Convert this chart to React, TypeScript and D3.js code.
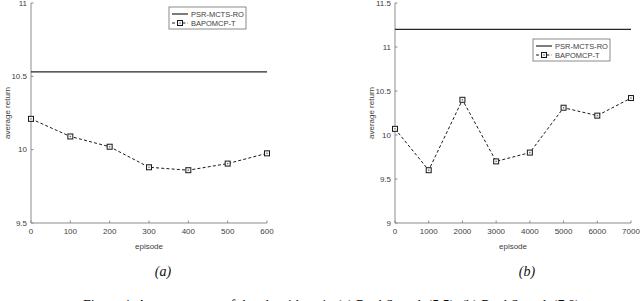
import * as React from "react";
import * as d3 from "d3";

// panel (a)
const episodesA = [0, 100, 200, 300, 400, 500, 600];
const bapomcpA = [10.21, 10.09, 10.02, 9.88, 9.86, 9.905, 9.975];
const psrA = 10.53;
const yTicksA = [9.5, 10, 10.5, 11];

// panel (b)
const episodesB = [0, 1000, 2000, 3000, 4000, 5000, 6000, 7000];
const bapomcpB = [10.07, 9.6, 10.4, 9.7, 9.8, 10.31, 10.22, 10.42];
const psrB = 11.2;
const yTicksB = [9, 9.5, 10, 10.5, 11, 11.5];

const seriesNames = ["PSR-MCTS-RO", "BAPOMCP-T"];
const panelLabels = ["(a)", "(b)"];

const axisColor = "#8c8c8c";
const labelColor = "#404040";
const font = "'Liberation Sans', Arial, sans-serif";
const serif = "'Liberation Serif', 'DejaVu Serif', serif";

type PanelProps = {
  left: number;
  right: number;
  episodes: number[];
  values: number[];
  psr: number;
  yTicks: number[];
  legendX: number;
  legendY: number;
  label: string;
};

const Marker = ({ cx, cy }: { cx: number; cy: number }) => (
  <g>
    <rect
      x={cx - 2.5}
      y={cy - 2.5}
      width={5}
      height={5}
      fill="#f4f4f4"
      stroke="#1a1a1a"
      strokeWidth={1}
    />
    <rect x={cx - 0.6} y={cy - 0.6} width={1.2} height={1.2} fill="#555" />
  </g>
);

const Panel = (props: PanelProps) => {
  const { left, right, episodes, values, psr, yTicks, legendX, legendY, label } = props;
  const top = 3;
  const bottom = 223;

  const x = d3
    .scaleLinear()
    .domain([0, episodes[episodes.length - 1]])
    .range([left, right]);
  const y = d3
    .scaleLinear()
    .domain([yTicks[0], yTicks[yTicks.length - 1]])
    .range([bottom, top]);

  const line = d3
    .line<number>()
    .x((d, i) => x(episodes[i]))
    .y((d) => y(d));

  const midX = (left + right) / 2;

  return (
    <g>
      {/* axes */}
      <line x1={left} x2={left} y1={top} y2={bottom} stroke={axisColor} strokeWidth={1} />
      <line x1={left} x2={right} y1={bottom} y2={bottom} stroke={axisColor} strokeWidth={1} />
      {yTicks.map((t) => (
        <g key={"y" + t}>
          <line x1={left} x2={left + 2.5} y1={y(t)} y2={y(t)} stroke={axisColor} />
          <text
            x={left - 4}
            y={y(t)}
            dy="0.35em"
            textAnchor="end"
            fontSize={8}
            fill={labelColor}
            fontFamily={font}
          >
            {String(t)}
          </text>
        </g>
      ))}
      {episodes.map((t) => (
        <g key={"x" + t}>
          <line x1={x(t)} x2={x(t)} y1={bottom} y2={bottom - 2.5} stroke={axisColor} />
          <text
            x={x(t)}
            y={bottom + 10}
            dy="0.1em"
            textAnchor="middle"
            fontSize={8}
            fill={labelColor}
            fontFamily={font}
          >
            {String(t)}
          </text>
        </g>
      ))}
      <text
        x={midX}
        y={249}
        textAnchor="middle"
        fontSize={8}
        fill={labelColor}
        fontFamily={font}
      >
        episode
      </text>
      <text
        transform={`translate(${left - 24},${(top + bottom) / 2}) rotate(-90)`}
        dy="0.35em"
        textAnchor="middle"
        fontSize={8}
        fill={labelColor}
        fontFamily={font}
      >
        average return
      </text>

      {/* PSR-MCTS-RO */}
      <line x1={left} x2={right} y1={y(psr)} y2={y(psr)} stroke="#262626" strokeWidth={1.2} />

      {/* BAPOMCP-T */}
      <path
        d={line(values) || ""}
        fill="none"
        stroke="#1a1a1a"
        strokeWidth={1}
        strokeDasharray="3,2.2"
      />
      {values.map((v, i) => (
        <Marker key={i} cx={x(episodes[i])} cy={y(v)} />
      ))}

      {/* legend */}
      <g transform={`translate(${legendX},${legendY})`}>
        <rect x={0} y={0} width={77} height={22} fill="#ffffff" stroke="#6e6e6e" strokeWidth={0.8} />
        <line x1={3} x2={19} y1={7} y2={7} stroke="#262626" strokeWidth={1.2} />
        <line x1={3} x2={19} y1={16} y2={16} stroke="#1a1a1a" strokeWidth={1} strokeDasharray="3,2.2" />
        <Marker cx={11} cy={16} />
        <text x={22} y={7} dy="0.35em" fontSize={7.5} fill={labelColor} fontFamily={font}>
          {seriesNames[0]}
        </text>
        <text x={22} y={16} dy="0.35em" fontSize={7.5} fill={labelColor} fontFamily={font}>
          {seriesNames[1]}
        </text>
      </g>

      <text
        x={midX + 14}
        y={276}
        textAnchor="middle"
        fontSize={14}
        fontStyle="italic"
        fill="#111"
        fontFamily={serif}
      >
        {label}
      </text>
    </g>
  );
};

export default function App() {
  const width = 640;
  const height = 301;
  return (
    <svg
      width={width}
      height={height}
      style={{ position: "absolute", left: 0, top: 0, background: "#fff" }}
    >
      <rect width={width} height={height} fill="#fff" />
      <Panel
        left={31}
        right={267}
        episodes={episodesA}
        values={bapomcpA}
        psr={psrA}
        yTicks={yTicksA}
        legendX={169}
        legendY={7}
        label={panelLabels[0]}
      />
      <Panel
        left={395}
        right={631}
        episodes={episodesB}
        values={bapomcpB}
        psr={psrB}
        yTicks={yTicksB}
        legendX={533}
        legendY={39}
        label={panelLabels[1]}
      />
      <text x={83} y={310} fontSize={14} fill="#111" fontFamily={serif}>
        Figure 4: Average return of the algorithms in (a) RockSample(5,5), (b) RockSample(7,8).
      </text>
    </svg>
  );
}
